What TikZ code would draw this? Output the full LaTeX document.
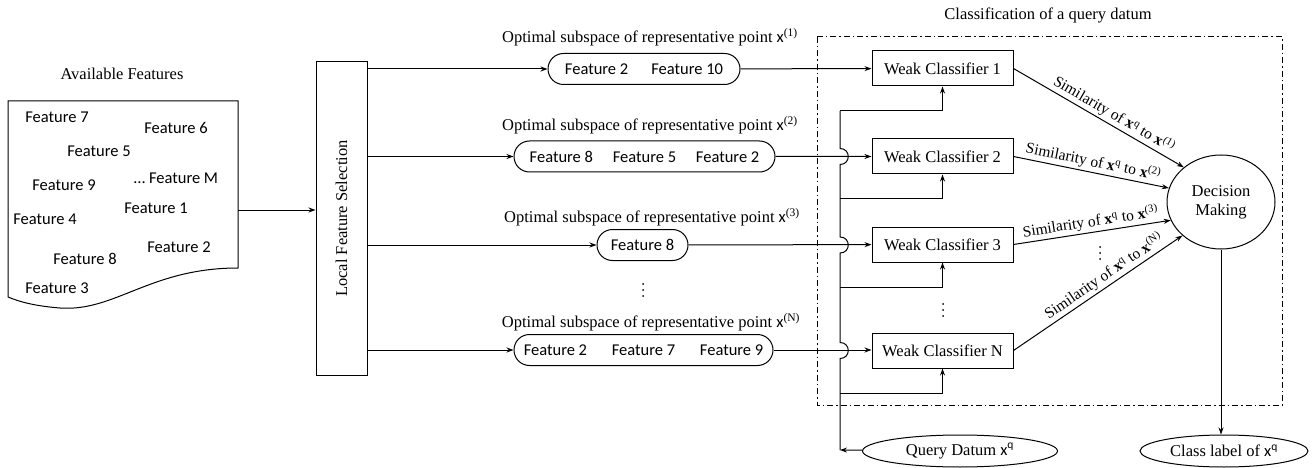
\documentclass[tikz,border=0pt]{standalone}
\usepackage{fontspec}
\setmainfont{Liberation Serif}
\setsansfont{Carlito}
\usepackage{tikz}
\usetikzlibrary{shapes,shapes.misc,arrows.meta,positioning}
\tikzstyle{lfsbox} = [rectangle, draw=black, line width=1pt, minimum width=51pt, minimum height=313pt, inner sep=0pt]
\tikzstyle{subspace} = [rounded rectangle, draw=black, line width=1pt, minimum height=31pt, inner sep=0pt, font=\fontsize{16.5}{19}\sffamily]
\tikzstyle{weak} = [rectangle, draw=black, line width=1pt, minimum width=141pt, minimum height=35pt, inner sep=0pt]
\tikzstyle{datum} = [ellipse, draw=black, line width=1pt, minimum height=32pt, inner sep=0pt]
\tikzstyle{feat} = [font=\fontsize{16.5}{19}\sffamily, inner sep=0pt]
\tikzstyle{simlabel} = [sloped, above, inner sep=2pt, font=\fontsize{15.5}{18}\selectfont]
\tikzstyle{arrow} = [line width=1pt, -{Stealth[length=7pt,width=5pt]}]
\tikzstyle{line} = [line width=1pt]
\newcommand{\sx}{{\sffamily x}}
\newcommand{\vdotsat}[1]{\foreach \d in {-6,0,6} \fill (#1) ++(0,\d) circle (1pt);}

\begin{document}
\begin{tikzpicture}[x=1pt, y=-1pt, font=\fontsize{16.5}{19}\selectfont]
\useasboundingbox (0,0) rectangle (1315,468);

\node(availtitle)   at (122,74)      {Available Features};
\draw [line] (8,101) -- (238,101) -- (238,268) .. controls (150,268) and (115,312) .. (60,308) .. controls (35,306) and (20,302) .. (8,297) -- cycle;
\coordinate(docout) at (238,210);
\node(f7) [feat] at (57,117)  {Feature 7};
\node(f6) [feat] at (176,128) {Feature 6};
\node(f5) [feat] at (99,151)  {Feature 5};
\node(f9) [feat] at (64,185)  {Feature 9};
\node(fM) [feat] at (176,178) {\dots\ Feature M};
\node(f4) [feat] at (45,219)  {Feature 4};
\node(f1) [feat] at (156,208) {Feature 1};
\node(f2) [feat] at (179,247) {Feature 2};
\node(f8) [feat] at (85,259)  {Feature 8};
\node(f3) [feat] at (57,288)  {Feature 3};

\node(lfs)          [lfsbox] at (341.5,218.5) {\rotatebox{90}{Local Feature Selection}};

\node(sub1)  [subspace, minimum width=192pt] at (644,69)    {Feature 2\hspace{1.4em}Feature 10};
\node(sub2)  [subspace, minimum width=261pt] at (644.5,156.5) {Feature 8\hspace{1.2em}Feature 5\hspace{1.2em}Feature 2};
\node(sub3)  [subspace, minimum width=91pt]  at (642.5,245) {Feature 8};
\node(subN)  [subspace, minimum width=259pt] at (643.5,350) {Feature 2\hspace{1.5em}Feature 7\hspace{1.5em}Feature 9};
\node(opt1)  at (650,37)  {Optimal subspace of representative point \sx\textsuperscript{(1)}};
\node(opt2)  at (650,125) {Optimal subspace of representative point \sx\textsuperscript{(2)}};
\node(opt3)  at (652,217) {Optimal subspace of representative point \sx\textsuperscript{(3)}};
\node(optN)  at (651,322) {Optimal subspace of representative point \sx\textsuperscript{(N)}};
\coordinate(dots1) at (643,290);
\vdotsat{dots1}

\node(clstitle)     at (1048,15) {Classification of a query datum};
\draw [line, dash pattern=on 6pt off 3pt on 1.5pt off 3pt] (817,37) rectangle (1282,405);

\node(wc1)   [weak] at (942.5,68.5)  {Weak Classifier 1};
\node(wc2)   [weak] at (942.5,156.5) {Weak Classifier 2};
\node(wc3)   [weak] at (942.5,244.5) {Weak Classifier 3};
\node(wcN)   [weak] at (942.5,350.5) {Weak Classifier N};
\coordinate(dots2) at (943,310);
\coordinate(dots3) at (1100,253);
\vdotsat{dots2}
\vdotsat{dots3}

\node(dm)    [ellipse, draw=black, line width=1pt, minimum width=108pt, minimum height=94pt, inner sep=0pt, align=center] at (1221,202) {Decision\\Making};
\node(query) [datum, minimum width=195pt] at (960,451)  {Query Datum \sx\textsuperscript{\sffamily q}};
\node(cls)   [datum, minimum width=168pt] at (1224,451) {Class label of \sx\textsuperscript{\sffamily q}};

\coordinate(qbus) at (840,450);
\coordinate(b1) at (840,111);
\coordinate(b2) at (840,198);
\coordinate(b3) at (840,287);
\coordinate(b4) at (840,393);

\draw [arrow] (docout) -- (lfs.west |- docout);
\draw [arrow] (lfs.east |- sub1) -- (sub1);
\draw [arrow] (lfs.east |- sub2) -- (sub2);
\draw [arrow] (lfs.east |- sub3) -- (sub3);
\draw [arrow] (lfs.east |- subN) -- (subN);
\draw [arrow] (sub1) -- (wc1);
\draw [arrow] (sub2) -- (wc2);
\draw [arrow] (sub3) -- (wc3);
\draw [arrow] (subN.east) -- (wcN.west |- subN.east);

\draw [arrow] (query) -- (qbus);
\draw [line] (qbus) -- (840,358.5) .. controls (851,358.5) and (851,342.5) .. (840,342.5)
  -- (840,253) .. controls (851,253) and (851,237) .. (840,237)
  -- (840,164.5) .. controls (851,164.5) and (851,148.5) .. (840,148.5) -- (b1);
\draw [arrow] (b1) -| (wc1.south);
\draw [arrow] (b2) -| (wc2.south);
\draw [arrow] (b3) -| (wc3.south);
\draw [arrow] (b4) -| (wcN.south);

\draw [arrow] (wc1.east) -- node[simlabel, pos=0.56]{Similarity of \textbf{x}\textsuperscript{q} to \textbf{x}\textsuperscript{(1)}} (dm.137);
\draw [arrow] (wc2.east) -- node[simlabel, pos=0.5]{Similarity of \textbf{x}\textsuperscript{q} to \textbf{x}\textsuperscript{(2)}} (dm.165);
\draw [arrow] (wc3.east) -- node[simlabel, pos=0.5]{Similarity of \textbf{x}\textsuperscript{q} to \textbf{x}\textsuperscript{(3)}} (dm.200);
\draw [arrow] (wcN.east) -- node[simlabel, pos=0.57]{Similarity of \textbf{x}\textsuperscript{q} to \textbf{x}\textsuperscript{(N)}} (dm.221);
\draw [arrow] (dm.south) -- (cls.north -| dm.south);

\end{tikzpicture}
\end{document}
